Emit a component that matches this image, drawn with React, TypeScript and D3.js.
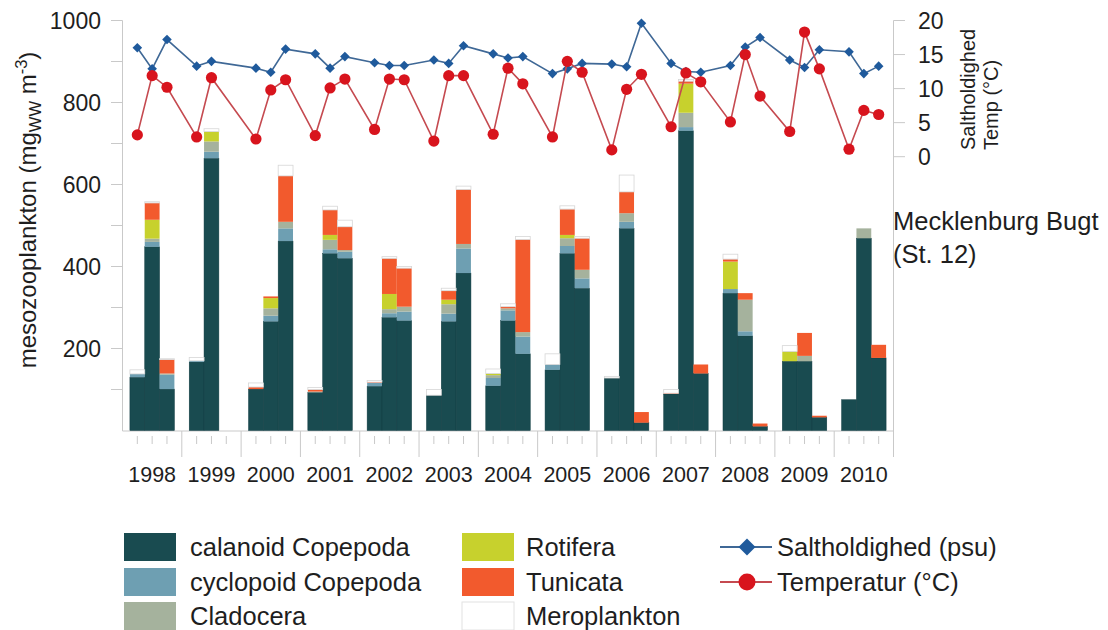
import React from 'react';
import * as d3 from 'd3';

const years = ['1998', '1999', '2000', '2001', '2002', '2003', '2004', '2005', '2006', '2007', '2008', '2009', '2010'];
const slots = [1, 2, 3];

// mg WW m-3, three samples per year (null = no sample)
const calanoid = [130, 448, 101, 167, 664, null, 101, 266, 462, 93, 432, 420, 108, 276, 268, 86, 266, 384, 109, 268, 187, 148, 432, 347, 128, 493, 19, 89, 731, 139, 335, 231, 10, 169, 169, 32, 75, 469, 177];
const cyclopoid = [8, 12, 35, 3, 16, null, 0, 14, 31, 0, 10, 16, 8, 10, 22, 0, 19, 60, 19, 25, 42, 13, 18, 24, 0, 16, 0, 0, 9, 0, 10, 11, 0, 0, 0, 0, 0, 0, 0];
const cladocera = [0, 8, 3, 0, 25, null, 0, 18, 16, 2, 23, 4, 0, 10, 12, 0, 23, 11, 7, 5, 11, 0, 19, 21, 0, 21, 0, 0, 35, 0, 0, 77, 0, 0, 13, 0, 0, 24, 0];
const rotifera = [0, 46, 0, 0, 24, null, 0, 25, 0, 0, 12, 0, 0, 37, 0, 0, 11, 0, 4, 0, 0, 0, 8, 0, 0, 0, 0, 0, 71, 0, 67, 0, 0, 24, 0, 0, 0, 0, 0];
const tunicata = [0, 41, 34, 0, 0, null, 5, 4, 112, 5, 61, 57, 2, 87, 94, 0, 22, 133, 0, 4, 226, 0, 63, 77, 0, 52, 26, 2, 6, 22, 6, 16, 7, 0, 56, 4, 0, 0, 32];
const meroplankton = [10, 3, 2, 8, 7, null, 10, 0, 26, 5, 9, 16, 4, 4, 4, 14, 6, 8, 11, 7, 7, 26, 8, 4, 4, 41, 0, 9, 4, 0, 12, 0, 0, 14, 0, 0, 0, 0, 0];

// psu and °C
const salinity = [16.0, 12.9, 17.2, 13.3, 14.0, null, 13.0, 12.4, 15.8, 15.1, 13.0, 14.7, 13.8, 13.4, 13.4, 14.2, 13.7, 16.3, 15.1, 14.5, 14.7, 12.2, 12.9, 13.7, 13.6, 13.2, 19.6, 13.7, 12.5, 12.4, 13.4, 16.1, 17.5, 14.2, 13.1, 15.7, 15.4, 12.2, 13.3];
const temperature = [3.2, 11.9, 10.2, 2.9, 11.6, null, 2.6, 9.8, 11.3, 3.1, 10.1, 11.4, 4.0, 11.4, 11.3, 2.3, 11.9, 11.9, 3.3, 13.0, 10.7, 2.9, 14.0, 12.4, 1.0, 9.9, 12.1, 4.4, 12.3, 11.0, 5.1, 15.0, 8.9, 3.7, 18.3, 12.9, 1.1, 6.8, 6.2];

const leftTicks = [100, 200, 300, 400, 500, 600, 700, 800, 900, 1000];
const leftLabels = [200, 400, 600, 800, 1000];
const rightTicks = [0, 5, 10, 15, 20];

const seriesKeys = ['calanoid', 'cyclopoid', 'cladocera', 'rotifera', 'tunicata', 'meroplankton'];
const seriesLabels = ['calanoid Copepoda', 'cyclopoid Copepoda', 'Cladocera', 'Rotifera', 'Tunicata', 'Meroplankton'];
const seriesValues = [calanoid, cyclopoid, cladocera, rotifera, tunicata, meroplankton];
const seriesColors = ['#194b50', '#6e9fb2', '#a5b29d', '#c7d12d', '#f25a2d', '#ffffff'];
const lineLabels = ['Saltholdighed (psu)', 'Temperatur (°C)'];

const FONT = 'Liberation Sans, Arial, Helvetica, sans-serif';
const AX = '#c9c9c9';
const TXT = '#1e1e1e';

export default function App() {
  const x0 = 122.5, x1 = 893.5;
  const base = 431;
  const band = d3.scaleBand<string>().domain(years).range([x0, x1]).paddingInner(0).paddingOuter(0);
  const bw = band.bandwidth();
  const sub = d3.scaleLinear().domain([0, 4]).range([0, bw]);
  const yL = d3.scaleLinear().domain([0, 1000]).range([430.5, 20.5]);
  const yR = d3.scaleLinear().domain([0, 20]).range([156.7, 20.5]);
  const barW = bw / 4;

  type Row = { [k: string]: number | string };
  const rows: Row[] = [];
  years.forEach((yr, i) => {
    slots.forEach((s, k) => {
      const j = i * 3 + k;
      if (calanoid[j] == null) return;
      const r: Row = { year: yr, slot: s };
      seriesKeys.forEach((key, si) => { r[key] = (seriesValues[si][j] as number) || 0; });
      rows.push(r);
    });
  });
  const stacked = d3.stack<Row>().keys(seriesKeys).value((d, key) => d[key] as number)(rows);
  const xPos = (yr: string, s: number) => (band(yr) as number) + sub(s);

  type P = { x: number; v: number };
  const pts = (arr: (number | null)[]) => {
    const out: P[] = [];
    years.forEach((yr, i) => slots.forEach((s, k) => {
      const v = arr[i * 3 + k];
      if (v != null) out.push({ x: xPos(yr, s), v });
    }));
    return out;
  };
  const salPts = pts(salinity);
  const tempPts = pts(temperature);
  const line = d3.line<P>().x(d => d.x).y(d => yR(d.v));

  const diamond = (cx: number, cy: number, r: number) => `M${cx},${cy - r}L${cx + r},${cy}L${cx},${cy + r}L${cx - r},${cy}Z`;

  const legRowY = [547, 582, 616];

  return (
    <svg width={1108} height={630} style={{ position: 'absolute', left: 0, top: 0, background: '#fff' }} fontFamily={FONT}>
      <rect x={0} y={0} width={1108} height={630} fill="#fff" />
      {/* axes */}
      <line x1={x0} x2={x0} y1={20.5} y2={base} stroke={AX} strokeWidth={1} />
      <line x1={x0} x2={x1} y1={base} y2={base} stroke={AX} strokeWidth={1} />
      <line x1={x1} x2={x1} y1={20.5} y2={457} stroke={AX} strokeWidth={1} />
      {leftTicks.map(t => (
        <line key={'lt' + t} x1={111} x2={x0} y1={yL(t)} y2={yL(t)} stroke={AX} strokeWidth={1} />
      ))}
      {leftLabels.map(t => (
        <text key={'ll' + t} x={101} y={yL(t) + 8} textAnchor="end" fontSize={23} fill={TXT}>{t}</text>
      ))}
      {rightTicks.map(t => (
        <g key={'rt' + t}>
          <line x1={x1} x2={905} y1={yR(t)} y2={yR(t)} stroke={AX} strokeWidth={1} />
          <text x={918} y={yR(t) + 8} fontSize={23} fill={TXT}>{t}</text>
        </g>
      ))}
      {years.map(yr => (
        <g key={'yx' + yr}>
          <line x1={(band(yr) as number) + bw} x2={(band(yr) as number) + bw} y1={base} y2={457} stroke={AX} strokeWidth={1} />
          {slots.map(s => (
            <line key={s} x1={xPos(yr, s)} x2={xPos(yr, s)} y1={436} y2={444} stroke={AX} strokeWidth={1} />
          ))}
          <text x={(band(yr) as number) + bw / 2} y={481.5} textAnchor="middle" fontSize={21.5} fill={TXT}>{yr}</text>
        </g>
      ))}
      {/* bars */}
      {stacked.map((layer, si) => (
        <g key={layer.key} fill={seriesColors[si]}>
          {layer.map((d, di) => {
            const h = yL(d[0]) - yL(d[1]);
            if (h <= 0.05) return null;
            const cx = xPos(d.data.year as string, d.data.slot as number);
            const isMero = si === seriesKeys.length - 1;
            return (
              <rect key={di} x={cx - barW / 2} y={yL(d[1])} width={barW} height={h}
                stroke={isMero ? '#d6d6d6' : si === 0 ? '#0f3b40' : 'none'}
                strokeWidth={isMero ? 0.8 : 0.5} />
            );
          })}
        </g>
      ))}
      {/* lines */}
      <path d={line(salPts) || ''} fill="none" stroke="#3f6896" strokeWidth={1.6} />
      {salPts.map((p, i) => (
        <path key={'sp' + i} d={diamond(p.x, yR(p.v), 4.8)} fill="#1f5a9c" />
      ))}
      <path d={line(tempPts) || ''} fill="none" stroke="#c54a50" strokeWidth={1.6} />
      {tempPts.map((p, i) => (
        <circle key={'tp' + i} cx={p.x} cy={yR(p.v)} r={5.6} fill="#d8141d" />
      ))}
      {/* axis titles */}
      <text transform="translate(36,210) rotate(-90)" textAnchor="middle" fontSize={24} fill={TXT}>
        mesozooplankton (mg<tspan fontSize={16.5} dy={5}>WW</tspan><tspan dy={-5}> m</tspan><tspan fontSize={16.5} dy={-9}>-3</tspan><tspan dy={9}>)</tspan>
      </text>
      <text transform="translate(975,150) rotate(-90)" fontSize={20} fill={TXT}>Saltholdighed</text>
      <text transform="translate(998,150) rotate(-90)" fontSize={20} fill={TXT}>Temp (°C)</text>
      <text x={893} y={230} fontSize={25.5} fill={TXT}>Mecklenburg Bugt</text>
      <text x={893} y={263} fontSize={25.5} fill={TXT}>(St. 12)</text>
      {/* legend */}
      {seriesLabels.map((lab, i) => {
        const col = Math.floor(i / 3);
        const row = i % 3;
        const sx = col === 0 ? 124 : 462;
        const tx = col === 0 ? 190 : 526;
        const cy = legRowY[row];
        return (
          <g key={'lg' + i}>
            <rect x={sx} y={cy - 14} width={52} height={28} fill={seriesColors[i]}
              stroke={i === 5 ? '#e2e2e2' : 'none'} strokeWidth={1} />
            <text x={tx} y={cy + 9} fontSize={25.5} fill={TXT}>{lab}</text>
          </g>
        );
      })}
      <line x1={720} x2={772} y1={legRowY[0]} y2={legRowY[0]} stroke="#3f6896" strokeWidth={2} />
      <path d={diamond(747, legRowY[0], 8.5)} fill="#1f5a9c" />
      <text x={777} y={legRowY[0] + 9} fontSize={25.5} fill={TXT}>{lineLabels[0]}</text>
      <line x1={720} x2={772} y1={legRowY[1]} y2={legRowY[1]} stroke="#c54a50" strokeWidth={2} />
      <circle cx={747} cy={legRowY[1]} r={8.5} fill="#d8141d" />
      <text x={777} y={legRowY[1] + 9} fontSize={25.5} fill={TXT}>{lineLabels[1]}</text>
    </svg>
  );
}
